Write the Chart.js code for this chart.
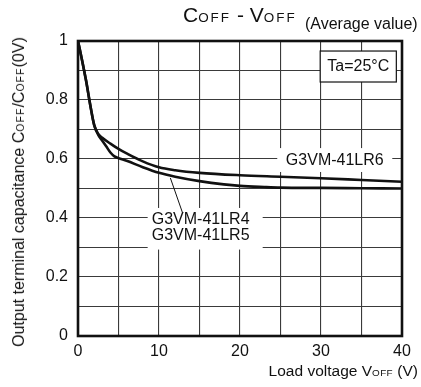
<!DOCTYPE html>
<html>
<head>
<meta charset="utf-8">
<script src="https://cdn.jsdelivr.net/npm/chart.js@4/dist/chart.umd.min.js"></script>
<style>
  html, body { margin: 0; padding: 0; background: #fff; }
  #wrap { position: relative; width: 421px; height: 387px; overflow: hidden; font-family: "Liberation Sans", Arial, sans-serif; color: #111; }
  #c { position: absolute; left: 0; top: 0; }
  .t { position: absolute; white-space: nowrap; line-height: 1; }
  .s { font-size: 0.64em; letter-spacing: 0.12em; }
  #title { left: 183px; top: 4px; font-size: 21px; }
  #title .s { letter-spacing: 2px; }
  #avg { left: 305px; top: 16px; font-size: 16px; }
  #ytitle { left: 19px; top: 192px; font-size: 16px; transform: translate(-50%, -50%) rotate(-90deg); }
  #xtitle { right: 3px; top: 363px; font-size: 15.5px; }
  #xtitle .s { letter-spacing: 0.04em; }
</style>
</head>
<body>
<div id="wrap">
  <canvas id="c" width="421" height="387"></canvas>
  <div class="t" id="title">C<span class="s">OFF</span> - V<span class="s">OFF</span></div>
  <div class="t" id="avg">(Average value)</div>
  <div class="t" id="ytitle">Output terminal capacitance C<span class="s">OFF</span>/C<span class="s">OFF</span>(0V)</div>
  <div class="t" id="xtitle">Load voltage V<span class="s">OFF</span> (V)</div>
</div>
<script>
// ---- data ----
const seriesNames = ["G3VM-41LR6", "G3VM-41LR4 / G3VM-41LR5"];
const voltsR6 = [0, 0.5, 1, 1.5, 2, 2.5, 3, 4, 5, 6, 8, 10, 12, 15, 20, 25, 30, 35, 40];
const capR6   = [1, 0.935, 0.865, 0.785, 0.715, 0.685, 0.672, 0.652, 0.634, 0.619, 0.592, 0.572, 0.562, 0.553, 0.545, 0.540, 0.535, 0.529, 0.523];
const voltsR45 = [0, 0.5, 1, 1.5, 2, 2.5, 3, 3.5, 4, 4.5, 5, 6, 8, 10, 12, 15, 18, 20, 23, 25, 30, 35, 40];
const capR45   = [1, 0.935, 0.865, 0.785, 0.715, 0.682, 0.662, 0.642, 0.622, 0.609, 0.603, 0.594, 0.572, 0.553, 0.540, 0.525, 0.514, 0.509, 0.505, 0.503, 0.502, 0.501, 0.500];
const xTicks = [0, 10, 20, 30, 40];
const yTicks = [0, 0.2, 0.4, 0.6, 0.8, 1];

const toPts = (xs, ys) => xs.map((x, i) => ({ x: x, y: ys[i] }));

const PLOT = { left: 78, top: 41, right: 402, bottom: 336 };
const W = 421, H = 387;
const FONT = '"Liberation Sans", Arial, sans-serif';

function box(ctx, x1, y1, x2, y2, stroke) {
  ctx.save();
  ctx.fillStyle = '#fff';
  ctx.fillRect(x1, y1, x2 - x1, y2 - y1);
  if (stroke) { ctx.strokeStyle = '#111'; ctx.lineWidth = 1.2; ctx.strokeRect(x1, y1, x2 - x1, y2 - y1); }
  ctx.restore();
}

const annot = {
  id: 'annot',
  beforeDatasetsDraw(chart) {
    const { ctx } = chart;
    const xs = chart.scales.x, ys = chart.scales.y;
    const X = v => xs.getPixelForValue(v), Y = v => ys.getPixelForValue(v);
    ctx.save();
    ctx.font = '16px ' + FONT;
    ctx.fillStyle = '#111';
    ctx.textBaseline = 'middle';
    // Ta box
    box(ctx, X(29.9), Y(0.966), X(39.3), Y(0.861), true);
    ctx.textAlign = 'center';
    ctx.fillText('Ta=25°C', X(34.6), Y(0.913));
    // LR6 label
    box(ctx, X(24.6), Y(0.637), X(38.8), Y(0.556), false);
    ctx.fillText('G3VM-41LR6', X(31.7), Y(0.595));
    // LR4 / LR5 label
    box(ctx, X(8.6), Y(0.434), X(22.8), Y(0.293), false);
    ctx.textAlign = 'left';
    ctx.fillText('G3VM-41LR4', X(9.1), Y(0.393));
    ctx.fillText('G3VM-41LR5', X(9.1), Y(0.342));
    // leader line
    ctx.strokeStyle = '#111';
    ctx.lineWidth = 1;
    ctx.beginPath();
    ctx.moveTo(X(11.4), Y(0.536));
    ctx.lineTo(X(12.9), Y(0.418));
    ctx.stroke();
    ctx.restore();
  },
  afterDatasetsDraw(chart) {
    const { ctx, chartArea: a } = chart;
    ctx.save();
    ctx.strokeStyle = '#111';
    ctx.lineWidth = 2.6;
    ctx.strokeRect(a.left, a.top, a.right - a.left, a.bottom - a.top);
    ctx.restore();
  }
};

const lineStyle = {
  borderColor: '#111', borderWidth: 2.6, pointRadius: 0, fill: false,
  cubicInterpolationMode: 'monotone'
};

new Chart(document.getElementById('c'), {
  type: 'line',
  data: {
    datasets: [
      Object.assign({ label: seriesNames[0], data: toPts(voltsR6, capR6) }, lineStyle),
      Object.assign({ label: seriesNames[1], data: toPts(voltsR45, capR45) }, lineStyle)
    ]
  },
  options: {
    responsive: false,
    animation: false,
    devicePixelRatio: 1,
    layout: { padding: { left: 0, top: PLOT.top, right: W - PLOT.right, bottom: 0 } },
    plugins: { legend: { display: false }, tooltip: { enabled: false }, title: { display: false } },
    scales: {
      x: {
        type: 'linear', min: 0, max: 40,
        afterFit(s) { s.height = H - PLOT.bottom; },
        afterBuildTicks(s) { s.ticks = [0,5,10,15,20,25,30,35,40].map(v => ({ value: v })); },
        ticks: {
          autoSkip: false, maxRotation: 0, padding: 6,
          color: '#111', font: { family: FONT, size: 16 },
          callback: v => xTicks.includes(v) ? String(v) : ''
        },
        grid: { color: '#3a3a3a', lineWidth: 1.1, drawTicks: false },
        border: { display: false }
      },
      y: {
        type: 'linear', min: 0, max: 1,
        afterFit(s) { s.width = PLOT.left; },
        afterBuildTicks(s) { s.ticks = [0,0.1,0.2,0.3,0.4,0.5,0.6,0.7,0.8,0.9,1].map(v => ({ value: v })); },
        ticks: {
          autoSkip: false, padding: 10,
          color: '#111', font: { family: FONT, size: 16 },
          callback: v => {
            const hit = yTicks.find(t => Math.abs(t - v) < 1e-6);
            if (hit === undefined) return '';
            return (hit === 0 || hit === 1) ? String(hit) : hit.toFixed(1);
          }
        },
        grid: { color: '#3a3a3a', lineWidth: 1.1, drawTicks: false },
        border: { display: false }
      }
    }
  },
  plugins: [annot]
});
</script>
</body>
</html>
